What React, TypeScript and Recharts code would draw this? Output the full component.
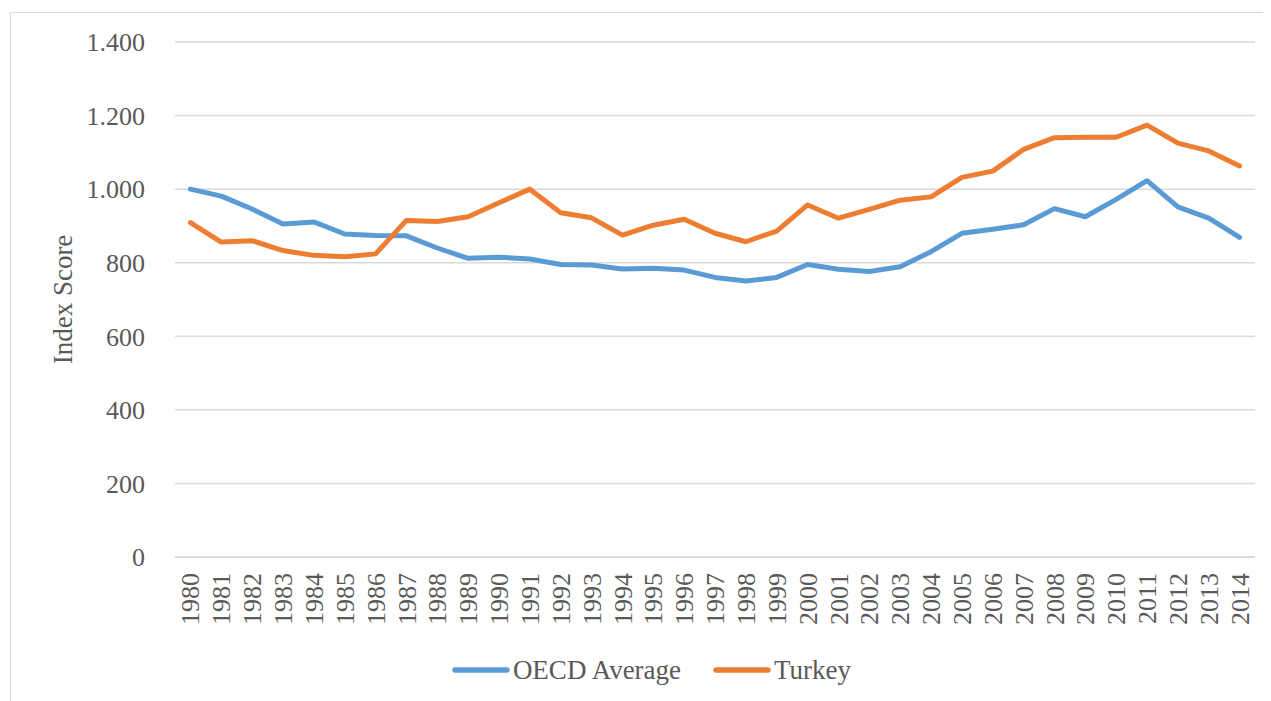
import React from 'react';
import { LineChart, Line, XAxis, YAxis, CartesianGrid, Legend } from 'recharts';

const years = [
  '1980', '1981', '1982', '1983', '1984', '1985', '1986', '1987', '1988', '1989',
  '1990', '1991', '1992', '1993', '1994', '1995', '1996', '1997', '1998', '1999',
  '2000', '2001', '2002', '2003', '2004', '2005', '2006', '2007', '2008', '2009',
  '2010', '2011', '2012', '2013', '2014',
];

const oecdAverage = [
  1000, 981, 946, 905, 911, 878, 874, 873, 840, 812,
  815, 810, 795, 794, 783, 785, 780, 760, 750, 760,
  795, 782, 776, 789, 830, 880, 891, 903, 947, 925,
  972, 1023, 952, 921, 869,
];

const turkey = [
  909, 856, 860, 833, 820, 816, 824, 915, 912, 925,
  963, 1000, 936, 922, 875, 902, 918, 880, 857, 886,
  957, 921, 945, 970, 979, 1032, 1049, 1108, 1140, 1141,
  1141, 1174, 1125, 1104, 1063,
];

const yTicks = [0, 200, 400, 600, 800, 1000, 1200, 1400];

const data = years.map((y, i) => ({ year: y, oecd: oecdAverage[i], turkey: turkey[i] }));

const FONT = '"Liberation Serif", "Times New Roman", serif';
const TEXT = '#595959';
const GRID = '#D9D9D9';

const fmt = (v: number) => String(v).replace(/\B(?=(\d{3})+(?!\d))/g, '.');

const XTick = (props: any) => {
  const { x, y, payload } = props;
  return (
    <text
      x={x}
      y={y}
      transform={`rotate(-90, ${x}, ${y})`}
      textAnchor="end"
      dy="0.35em"
      fill={TEXT}
      fontSize={26}
      fontFamily={FONT}
    >
      {payload.value}
    </text>
  );
};

const LegendContent = (props: any) => {
  const { payload } = props;
  return (
    <div
      style={{
        height: 40,
        display: 'flex',
        justifyContent: 'center',
        alignItems: 'center',
        gap: 32,
        paddingLeft: 40,
        boxSizing: 'border-box',
        fontFamily: FONT,
        fontSize: 27,
        color: TEXT,
      }}
    >
      {(payload || []).map((p: any) => (
        <div key={p.value} style={{ display: 'flex', alignItems: 'center' }}>
          <svg width={58} height={10} style={{ marginRight: 3 }}>
            <line x1={3} y1={5} x2={55} y2={5} stroke={p.color} strokeWidth={5.5} strokeLinecap="round" />
          </svg>
          <span>{p.value}</span>
        </div>
      ))}
    </div>
  );
};

export default function App() {
  return (
    <div style={{ position: 'relative', width: 1263, height: 693 }}>
      <div
        style={{
          position: 'absolute',
          left: 2,
          top: 4,
          width: 1261,
          height: 689,
          borderTop: `1.5px solid ${GRID}`,
          borderLeft: `1.5px solid ${GRID}`,
          boxSizing: 'border-box',
        }}
      />
      <div style={{ position: 'absolute', left: 0, top: 0 }}>
        <LineChart
          width={1263}
          height={693}
          data={data}
          margin={{ top: 34, right: 16, left: 0, bottom: 11 }}
        >
          <CartesianGrid horizontal vertical={false} stroke={GRID} strokeWidth={1.5} />
          <XAxis
            dataKey="year"
            interval={0}
            height={93}
            padding={{ left: 15.4, right: 15.4 }}
            axisLine={{ stroke: GRID, strokeWidth: 1.5 }}
            tickLine={false}
            tickSize={0}
            tickMargin={16}
            tick={<XTick />}
          />
          <YAxis
            width={167}
            domain={[0, 1400]}
            ticks={yTicks}
            interval={0}
            axisLine={false}
            tickLine={false}
            tickSize={0}
            tickMargin={30}
            tickFormatter={fmt}
            tick={{ fill: TEXT, fontSize: 26, fontFamily: FONT }}
            label={{
              value: 'Index Score',
              angle: -90,
              position: 'insideLeft',
              offset: 54,
              style: { fill: TEXT, fontSize: 27, fontFamily: FONT, textAnchor: 'middle' },
            }}
          />
          <Legend verticalAlign="bottom" content={<LegendContent />} />
          <Line
            type="linear"
            dataKey="oecd"
            name="OECD Average"
            stroke="#5B9BD5"
            strokeWidth={5}
            dot={false}
            strokeLinecap="round"
            strokeLinejoin="round"
            isAnimationActive={false}
          />
          <Line
            type="linear"
            dataKey="turkey"
            name="Turkey"
            stroke="#ED7D31"
            strokeWidth={5}
            dot={false}
            strokeLinecap="round"
            strokeLinejoin="round"
            isAnimationActive={false}
          />
        </LineChart>
      </div>
    </div>
  );
}
